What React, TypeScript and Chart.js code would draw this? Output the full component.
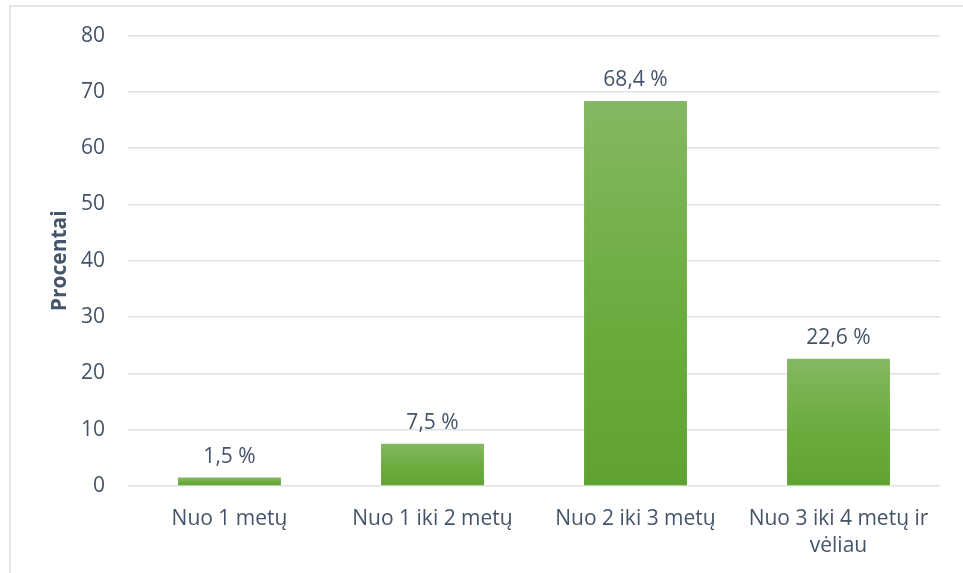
import React, { useEffect, useRef } from "react";
import { Chart, registerables } from "chart.js";

Chart.register(...registerables);

const categories: (string | string[])[] = [
  "Nuo 1 metų",
  "Nuo 1 iki 2 metų",
  "Nuo 2 iki 3 metų",
  ["Nuo 3 iki 4 metų ir", "vėliau"],
];
const values: number[] = [1.5, 7.5, 68.4, 22.6];
const valueLabels: string[] = ["1,5 %", "7,5 %", "68,4 %", "22,6 %"];
const yTicks: number[] = [0, 10, 20, 30, 40, 50, 60, 70, 80];
const yTitle = "Procentai";

const TEXT = "#44546a";
const FONT = "'Open Sans', sans-serif";

const labelPlugin = {
  id: "valueLabels",
  afterDatasetsDraw(chart: any) {
    const meta = chart.getDatasetMeta(0);
    const ctx = chart.ctx;
    ctx.save();
    ctx.fillStyle = TEXT;
    ctx.font = `21px ${FONT}`;
    ctx.textAlign = "center";
    ctx.textBaseline = "bottom";
    meta.data.forEach((bar: any, i: number) => {
      ctx.fillText(valueLabels[i], bar.x, bar.y - 10);
    });
    ctx.restore();
  },
};

export default function App() {
  const ref = useRef<HTMLCanvasElement>(null);
  useEffect(() => {
    document.body.style.overflow = "hidden";
    const chart = new Chart(ref.current!, {
      type: "bar",
      data: {
        labels: categories,
        datasets: [
          {
            data: values,
            backgroundColor: (c: any) => {
              const ch = c.chart;
              const y = ch.scales?.y;
              if (!ch.chartArea || !y || c.raw === undefined) return "#6fad45";
              const top = y.getPixelForValue(c.raw);
              const bottom = y.getPixelForValue(0);
              if (!isFinite(top) || Math.abs(bottom - top) < 1) return "#6fad45";
              const g = ch.ctx.createLinearGradient(0, top, 0, bottom);
              g.addColorStop(0, "#84b862");
              g.addColorStop(0.5, "#6dad41");
              g.addColorStop(1, "#60a232");
              return g;
            },
            categoryPercentage: 1,
            barPercentage: 0.507,
          },
        ],
      },
      options: {
        responsive: false,
        animation: false,
        layout: { padding: { left: 40, right: 23, top: 35, bottom: 0 } },
        plugins: {
          legend: { display: false },
          tooltip: { enabled: false },
        },
        scales: {
          x: {
            grid: { display: false },
            border: { display: false },
            ticks: {
              color: TEXT,
              font: { family: FONT, size: 21, lineHeight: 1.3 },
              padding: 11,
              maxRotation: 0,
              autoSkip: false,
            },
            afterFit: (s: any) => {
              s.height = 87;
            },
          },
          y: {
            min: 0,
            max: 80,
            afterBuildTicks: (s: any) => {
              s.ticks = yTicks.map((v) => ({ value: v }));
            },
            grid: { color: "#dde1e7", lineWidth: 1.5, drawTicks: false },
            border: { display: false },
            ticks: {
              color: TEXT,
              font: { family: FONT, size: 21 },
              padding: 23,
            },
            title: {
              display: true,
              text: yTitle,
              color: TEXT,
              font: { family: FONT, size: 21, weight: "bold" },
              padding: { top: 7, bottom: 0 },
            },
            afterFit: (s: any) => {
              s.width = 88;
            },
          },
        },
      },
      plugins: [labelPlugin],
    });
    return () => chart.destroy();
  }, []);

  return (
    <div style={{ position: "fixed", left: 0, top: 0, width: 963, height: 573, overflow: "hidden", background: "#fff" }}>
      <div
        style={{
          position: "absolute",
          left: 9,
          top: 5,
          width: 1000,
          height: 600,
          border: "2px solid #e3e7ed",
        }}
      />
      <canvas
        ref={ref}
        width={963}
        height={573}
        style={{ position: "absolute", left: 0, top: 0, width: 963, height: 573 }}
      />
    </div>
  );
}
